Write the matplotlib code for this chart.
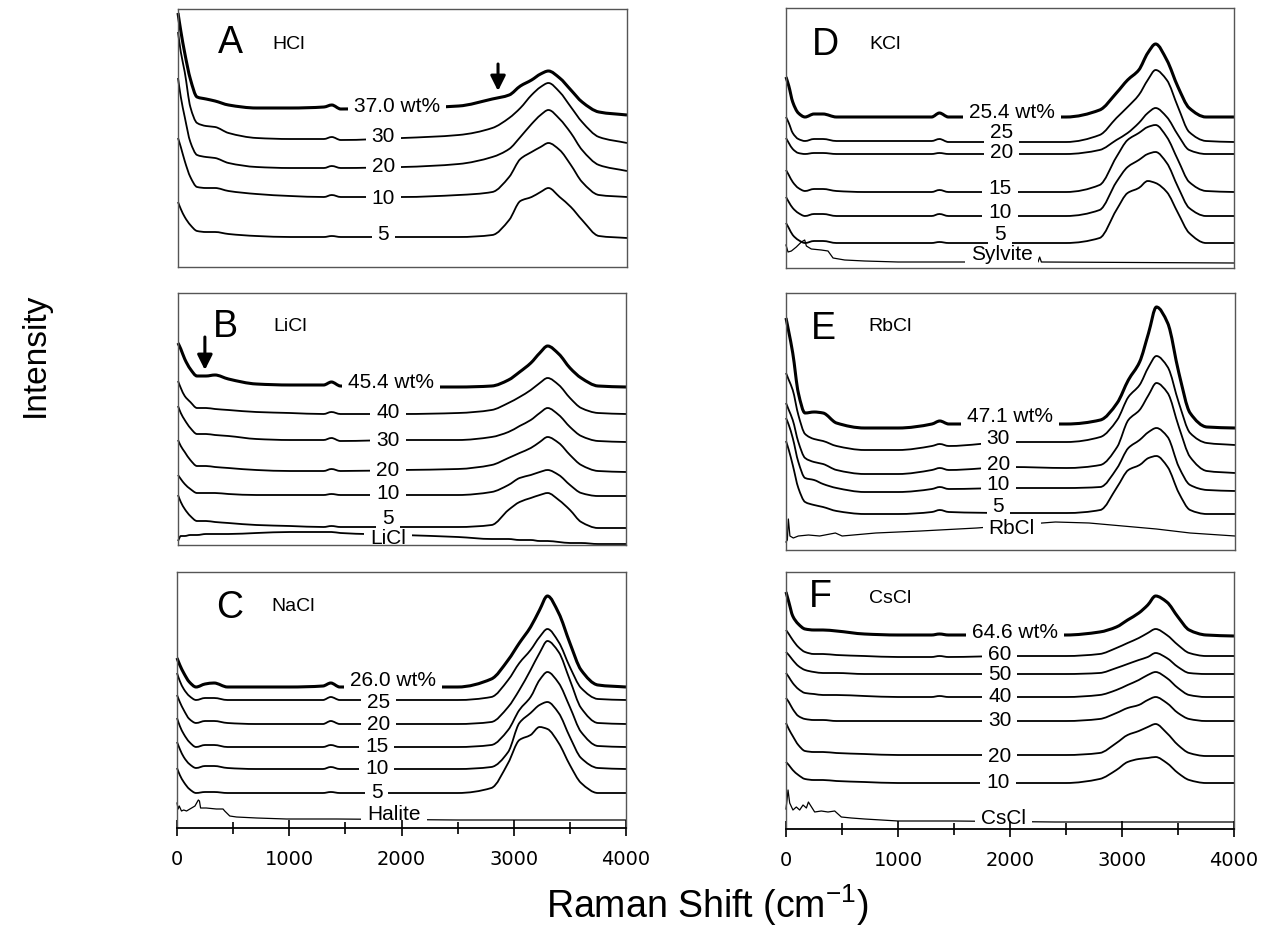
import numpy as np
import matplotlib
matplotlib.use("Agg")
import matplotlib.pyplot as plt
from matplotlib.patches import Rectangle, PathPatch
from matplotlib.path import Path

plt.rcParams["font.family"] = ["Liberation Sans", "DejaVu Sans"]
plt.rcParams["mathtext.fontset"] = "custom"
plt.rcParams["mathtext.rm"] = "Liberation Sans"
plt.rcParams["mathtext.it"] = "Liberation Sans:italic"

# ── Spectra (Raman shift grid shared by all solution spectra) ───────────────
SHIFT = [0, 25, 60, 110, 170, 250, 330, 450, 700, 1000, 1300, 1370, 1450, 2000,
         2500, 2800, 2950, 3050, 3150, 3230, 3300, 3400, 3500, 3600, 3750, 4000]

# A  HCl
HCL_LABELS = ["37.0 wt%", "30", "20", "10", "5"]
HCL_Y = [
    [254, 236, 214, 188, 170, 168, 166, 162, 159, 159, 160, 162, 158, 159, 161, 168, 172, 181, 187, 193, 196, 189, 177, 165, 155, 152],
    [235, 215, 195, 160, 144, 141, 140, 134, 129, 128, 128, 130, 127, 129, 132, 139, 149, 159, 172, 180, 184, 175, 160, 145, 130, 124],
    [189, 170, 150, 125, 112, 110, 109, 104, 100, 99, 99, 101, 99, 100, 103, 110, 118, 130, 143, 152, 157, 148, 134, 117, 102, 96],
    [129, 120, 106, 90, 80, 79, 79, 76, 73, 71, 70, 72, 70, 70, 72, 75, 90, 108, 115, 120, 124, 117, 102, 85, 72, 70],
    [65, 58, 50, 42, 36, 35, 35, 33, 31, 30, 30, 31, 30, 30, 30, 32, 47, 66, 70, 75, 79, 70, 60, 47, 31, 29],
]
HCL_LX = [1948, 1830, 1830, 1830, 1830]
HCL_LY = [160, 130, 100, 69, 32]

# B  LiCl
LICL_LABELS = ["45.4 wt%", "40", "30", "20", "10", "5", "LiCl"]
LICL_Y = [
    [202, 196, 186, 176, 169, 169, 170, 166, 161, 160, 160, 163, 159, 158, 158, 159, 165, 173, 182, 192, 199, 191, 177, 167, 159, 158],
    [164, 157, 149, 143, 137, 137, 136, 135, 133, 132, 131, 133, 131, 131, 132, 135, 142, 148, 155, 162, 167, 160, 147, 137, 132, 131],
    [139, 132, 125, 117, 111, 111, 110, 109, 106, 105, 105, 107, 104, 105, 105, 108, 113, 119, 125, 132, 137, 130, 118, 109, 104, 103],
    [105, 99, 93, 85, 79, 79, 78, 77, 75, 74, 74, 76, 74, 75, 76, 80, 87, 92, 97, 103, 108, 102, 90, 80, 74, 73],
    [70, 66, 61, 56, 52, 52, 52, 51, 50, 50, 50, 51, 50, 50, 50, 53, 60, 67, 70, 73, 75, 70, 60, 52, 49, 49],
    [50, 43, 36, 29, 24, 24, 23, 22, 20, 19, 18, 19, 18, 18, 18, 20, 35, 43, 47, 50, 52, 45, 35, 23, 17, 17],
    [4, 9, 9, 10, 10, 11, 11, 11, 12, 13, 13, 13, 12, 10, 8, 6, 6, 5, 5, 4, 4, 3, 2, 2, 1, 1],
]
LICL_LX = [1904, 1874, 1874, 1874, 1874, 1874, 1874]
LICL_LY = [162, 133, 105, 75, 52, 26, 6]

# C  NaCl
NACL_LABELS = ["26.0 wt%", "25", "20", "15", "10", "5"]
NACL_Y = [
    [170, 163, 155, 146, 141, 144, 145, 141, 141, 141, 142, 145, 141, 141, 141, 149, 168, 185, 201, 218, 232, 215, 185, 158, 143, 141],
    [155, 147, 139, 132, 128, 130, 130, 128, 128, 128, 128, 131, 128, 128, 128, 131, 148, 165, 178, 191, 199, 186, 161, 140, 129, 128],
    [133, 126, 118, 109, 105, 107, 107, 105, 104, 104, 104, 107, 104, 104, 104, 106, 121, 138, 158, 175, 187, 176, 148, 120, 105, 104],
    [110, 102, 94, 86, 81, 83, 83, 81, 81, 81, 81, 83, 81, 81, 81, 83, 98, 118, 131, 148, 156, 145, 121, 96, 82, 81],
    [86, 79, 71, 64, 60, 62, 62, 60, 59, 59, 59, 61, 59, 59, 59, 61, 76, 105, 115, 123, 126, 115, 91, 70, 60, 59],
    [60, 53, 46, 39, 35, 36, 36, 35, 35, 35, 35, 36, 35, 35, 35, 40, 65, 88, 93, 101, 99, 85, 63, 45, 35, 35],
]
NACL_LX = [1927, 1793, 1793, 1778, 1778, 1778]
NACL_LY = [148, 126, 104, 81, 59, 35]
HALITE_X = [0, 10, 20, 40, 60, 85, 130, 160, 190, 200, 210, 260, 350, 410, 425, 470, 530, 710, 975, 1420, 2500, 4000]
HALITE_Y = [25, 19, 22, 17, 18, 17, 20, 22, 28, 27, 20, 20, 19, 19, 17, 12, 11, 10, 9, 9, 8, 8]

# D  KCl
KCL_LABELS = ["25.4 wt%", "25", "20", "15", "10", "5"]
KCL_Y = [
    [191, 182, 166, 155, 151, 154, 154, 151, 151, 151, 151, 155, 151, 151, 151, 158, 175, 188, 198, 215, 224, 208, 181, 160, 151, 151],
    [151, 145, 135, 129, 127, 129, 129, 127, 127, 127, 127, 129, 126, 126, 126, 133, 150, 161, 173, 188, 198, 188, 161, 136, 127, 126],
    [130, 125, 119, 115, 114, 115, 115, 114, 114, 114, 114, 115, 114, 114, 114, 118, 128, 135, 145, 155, 160, 151, 133, 118, 114, 114],
    [98, 93, 86, 80, 77, 79, 79, 77, 76, 76, 76, 78, 76, 76, 76, 83, 111, 128, 135, 141, 143, 131, 108, 86, 77, 76],
    [71, 66, 60, 55, 52, 54, 54, 52, 52, 52, 52, 54, 52, 52, 52, 58, 86, 101, 108, 114, 116, 105, 81, 60, 52, 52],
    [45, 40, 33, 28, 25, 27, 27, 25, 25, 25, 25, 26, 25, 25, 25, 30, 58, 75, 80, 87, 85, 76, 55, 35, 25, 25],
]
KCL_LX = [2015, 1925, 1925, 1911, 1911, 1911]
KCL_LY = [155, 135, 115, 80, 56, 33]
SYLVITE_X = [0, 18, 48, 92, 137, 167, 182, 226, 315, 375, 420, 524, 702, 1000, 1500, 2000, 2250, 2265, 2280, 4000]
SYLVITE_Y = [23, 16, 17, 21, 26, 28, 22, 19, 18, 17, 10, 8, 7, 6, 6, 6, 6, 11, 6, 5]

# E  RbCl
RBCL_LABELS = ["47.1 wt%", "30", "20", "10", "5"]
RBCL_Y = [
    [232, 218, 197, 157, 137, 138, 137, 127, 122, 122, 126, 129, 126, 126, 126, 130, 147, 170, 188, 217, 243, 227, 177, 137, 123, 122],
    [177, 170, 160, 135, 116, 111, 109, 104, 100, 100, 104, 106, 104, 108, 108, 113, 130, 153, 165, 183, 194, 183, 147, 117, 107, 105],
    [147, 140, 130, 108, 92, 88, 86, 80, 76, 76, 80, 82, 80, 83, 82, 85, 103, 130, 140, 155, 167, 157, 123, 93, 79, 77],
    [132, 125, 112, 88, 72, 70, 66, 62, 58, 58, 61, 63, 61, 62, 62, 63, 82, 102, 110, 118, 122, 113, 83, 65, 60, 59],
    [109, 100, 85, 62, 48, 45, 43, 39, 36, 36, 38, 40, 38, 37, 37, 40, 63, 80, 85, 92, 94, 83, 57, 40, 36, 36],
]
RBCL_LX = [1996, 1892, 1892, 1892, 1892]
RBCL_LY = [133, 111, 85, 66, 43]
RBCL_SOLID_X = [0, 12, 21, 35, 65, 110, 200, 300, 440, 500, 800, 1200, 1700, 2400, 2700, 3300, 3600, 4000]
RBCL_SOLID_Y = [8, 10, 31, 14, 12, 14, 15, 14, 17, 14, 17, 19, 22, 28, 27, 21, 17, 14]

# F  CsCl
CSCL_LABELS = ["64.6 wt%", "60", "50", "40", "30", "20", "10"]
CSCL_Y = [
    [237, 227, 213, 205, 200, 199, 199, 198, 195, 194, 194, 195, 194, 194, 194, 197, 202, 209, 216, 224, 233, 227, 212, 199, 194, 193],
    [199, 195, 189, 182, 177, 175, 175, 174, 173, 172, 172, 173, 172, 173, 173, 175, 181, 186, 191, 196, 200, 194, 184, 176, 173, 173],
    [177, 174, 169, 163, 159, 157, 156, 156, 155, 155, 155, 155, 155, 155, 155, 156, 161, 165, 169, 172, 176, 171, 162, 156, 155, 155],
    [156, 152, 146, 140, 136, 135, 134, 134, 133, 132, 132, 133, 132, 132, 132, 134, 139, 144, 149, 154, 157, 151, 141, 134, 132, 132],
    [131, 127, 120, 113, 110, 109, 109, 108, 108, 108, 108, 108, 108, 108, 108, 110, 116, 121, 124, 129, 132, 126, 116, 110, 108, 108],
    [106, 100, 93, 84, 78, 77, 77, 76, 75, 74, 74, 74, 74, 74, 74, 76, 86, 94, 98, 102, 105, 96, 84, 76, 73, 73],
    [67, 64, 59, 54, 50, 49, 49, 48, 47, 46, 46, 46, 46, 46, 46, 50, 59, 67, 70, 71, 72, 66, 56, 49, 46, 46],
]
CSCL_LX = [2043, 1909, 1909, 1909, 1909, 1909, 1894]
CSCL_LY = [196, 174, 155, 133, 109, 73, 47]
CSCL_SOLID_X = [0, 9, 18, 33, 62, 92, 122, 152, 182, 200, 211, 256, 315, 375, 435, 494, 583, 702, 1000, 1500, 2400, 4000]
CSCL_SOLID_Y = [20, 29, 39, 26, 19, 22, 19, 24, 21, 27, 25, 17, 18, 17, 18, 12, 11, 10, 8, 8, 7, 7]

# arrows marking the HCl and LiCl features: (shift, tail, head)
HCL_ARROW = (2851, 203, 176)
LICL_ARROW = (240, 208, 175)

TICKS = [0, 1000, 2000, 3000, 4000]
MINOR_TICKS = [500, 1500, 2500, 3500]

# ── Figure ──────────────────────────────────────────────────────────────────
W, H = 1265, 936
fig = plt.figure(figsize=(W / 100, H / 100), dpi=100)
renderer = fig.canvas.get_renderer()


def add_panel(left, top, right, bottom, bottom_axis=False):
    ax = fig.add_axes([left / W, 1 - bottom / H, (right - left) / W, (bottom - top) / H])
    ax.set_xlim(0, 4000)
    ax.set_ylim(0, bottom - top)
    ax.set_yticks([])
    for s in ax.spines.values():
        s.set_color("#555555")
        s.set_linewidth(1.0)
    if bottom_axis:
        ax.spines["bottom"].set_color("black")
        ax.spines["bottom"].set_linewidth(1.3)
        ax.set_xticks(TICKS)
        ax.set_xticks(MINOR_TICKS, minor=True)
        ax.tick_params(axis="x", which="major", direction="inout", length=11,
                       width=1.2, pad=10, labelsize=14)
        ax.tick_params(axis="x", which="minor", direction="inout", length=9, width=1.2)
        for t in ax.get_xticklabels():
            t.set_fontfamily("DejaVu Sans")
    else:
        ax.set_xticks([])
    return ax


def smooth_path(x, y):
    """Monotone cubic (Fritsch-Carlson) curve through the points, as Bezier segments."""
    x = np.asarray(x, float)
    y = np.asarray(y, float)
    h = np.diff(x)
    d = np.diff(y) / h
    m = np.zeros_like(y)
    m[0], m[-1] = d[0], d[-1]
    for i in range(1, len(x) - 1):
        if d[i - 1] * d[i] > 0:
            w1 = 2 * h[i] + h[i - 1]
            w2 = h[i] + 2 * h[i - 1]
            m[i] = (w1 + w2) / (w1 / d[i - 1] + w2 / d[i])
    verts = [(x[0], y[0])]
    codes = [Path.MOVETO]
    for i in range(len(x) - 1):
        verts += [(x[i] + h[i] / 3, y[i] + m[i] * h[i] / 3),
                  (x[i + 1] - h[i] / 3, y[i + 1] - m[i + 1] * h[i] / 3),
                  (x[i + 1], y[i + 1])]
        codes += [Path.CURVE4] * 3
    return Path(verts, codes)


def gapped_line(ax, x, y, label, lx, ly, lw, smooth=True):
    txt = ax.text(lx, ly, label, ha="center", va="center", fontsize=15, zorder=5)
    bb = txt.get_window_extent(renderer)
    inv = ax.transData.inverted()
    g0 = inv.transform((bb.x0 - 6, 0))[0]
    g1 = inv.transform((bb.x1 + 6, 0))[0]
    # draw the spectrum twice, each copy clipped to one side of its label
    for a, b in ((-500, g0), (g1, 4500)):
        if smooth:
            art = PathPatch(smooth_path(x, y), fill=False, ec="black", lw=lw,
                            joinstyle="round", capstyle="butt")
            ax.add_patch(art)
        else:
            art, = ax.plot(x, y, color="black", lw=lw, solid_joinstyle="round")
        art.set_clip_path(Rectangle((a, -100), b - a, 600, transform=ax.transData))


def draw_panel(ax, letter, name, letter_pos, name_pos, curves, labels, lxs, lys, solid=None):
    for i, (yy, lab, lx, ly) in enumerate(zip(curves, labels, lxs, lys)):
        gapped_line(ax, SHIFT, yy, lab, lx, ly, 2.2 if i == 0 else 1.3)
    if solid is not None:
        sx, sy, slab, slx, sly = solid
        gapped_line(ax, sx, sy, slab, slx, sly, 0.9, smooth=False)
    ax.text(*letter_pos, letter, transform=ax.transAxes, ha="center", va="center", fontsize=27)
    ax.text(*name_pos, name, transform=ax.transAxes, ha="center", va="center", fontsize=14)


def arrow(ax, spec):
    x, y0, y1 = spec
    ax.annotate("", xy=(x, y1), xytext=(x, y0),
                arrowprops=dict(arrowstyle="-|>,head_length=0.9,head_width=0.45",
                                color="black", lw=2.2, shrinkA=0, shrinkB=0))


ax_a = add_panel(178, 9, 627, 267)
ax_b = add_panel(178, 293, 626, 545)
ax_c = add_panel(177, 572, 626, 828, bottom_axis=True)
ax_d = add_panel(786, 8, 1234, 268)
ax_e = add_panel(786, 293, 1235, 550)
ax_f = add_panel(786, 572, 1234, 829, bottom_axis=True)

draw_panel(ax_a, "A", "HCl", (0.116, 0.868), (0.247, 0.864),
           HCL_Y, HCL_LABELS, HCL_LX, HCL_LY)
arrow(ax_a, HCL_ARROW)

draw_panel(ax_b, "B", "LiCl", (0.105, 0.866), (0.25, 0.866),
           LICL_Y, LICL_LABELS, LICL_LX, LICL_LY)
arrow(ax_b, LICL_ARROW)

draw_panel(ax_c, "C", "NaCl", (0.118, 0.858), (0.258, 0.864),
           NACL_Y, NACL_LABELS, NACL_LX, NACL_LY,
           solid=(HALITE_X, HALITE_Y, "Halite", 1933, 13))

draw_panel(ax_d, "D", "KCl", (0.087, 0.858), (0.221, 0.858),
           KCL_Y, KCL_LABELS, KCL_LX, KCL_LY,
           solid=(SYLVITE_X, SYLVITE_Y, "Sylvite", 1925, 13))

draw_panel(ax_e, "E", "RbCl", (0.083, 0.859), (0.232, 0.869),
           RBCL_Y, RBCL_LABELS, RBCL_LX, RBCL_LY,
           solid=(RBCL_SOLID_X, RBCL_SOLID_Y, "RbCl", 2011, 22))

draw_panel(ax_f, "F", "CsCl", (0.076, 0.904), (0.232, 0.898),
           CSCL_Y, CSCL_LABELS, CSCL_LX, CSCL_LY,
           solid=(CSCL_SOLID_X, CSCL_SOLID_Y, "CsCl", 1939, 11))

fig.text(707 / W, 1 - 905 / H, r"Raman Shift (cm$^{-1}$)", ha="center", va="center", fontsize=27)
fig.text(35 / W, 1 - 355 / H, "Intensity", ha="center", va="center", rotation=90, fontsize=24)

fig.savefig("out.png", dpi=100)
